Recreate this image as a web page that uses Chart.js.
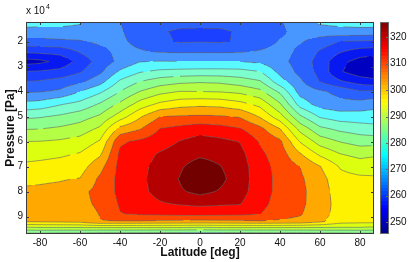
<!DOCTYPE html>
<html>
<head>
<meta charset="utf-8">
<script src="https://cdn.jsdelivr.net/npm/chart.js@4.4.1/dist/chart.umd.min.js"></script>
<style>
  html, body { margin: 0; padding: 0; background: #fff; }
</style>
</head>
<body>
<canvas id="chart" width="411" height="262"></canvas>
<script>
// grid: columns = latitude, rows = pressure
const latitudes = [-87, -80, -70, -60, -50, -40, -30, -20, -10, 0, 10, 20, 30, 40, 50, 60, 70, 80, 87];
const pressures = [12200, 16000, 20000, 24000, 28000, 32000, 36000, 40000, 45000, 50000, 55000,
  60000, 65000, 70000, 75000, 80000, 85000, 89000, 92000, 94500, 97000];
const temperature = [
  [272.5, 272, 271.5, 270.5, 267.5, 265, 263, 262, 261.5, 262, 261.5, 262, 263, 264.5, 268, 271, 271.5, 272, 272],
  [268, 268, 268.5, 268.5, 267.5, 265.5, 262.5, 260.5, 259.3, 259, 259.3, 260.5, 262, 264, 267, 267.5, 268.5, 268.5, 268.5],
  [263.5, 263.5, 264, 264.5, 266, 266, 263.5, 261, 259.5, 259.7, 259.5, 260.5, 262, 265.5, 265.5, 263, 260, 259.5, 259],
  [256, 256.5, 257, 260.5, 263.5, 266.5, 265.5, 264.5, 264.3, 264.4, 264.3, 264.5, 265.5, 267, 264, 259.5, 255.5, 253, 252.5],
  [248, 248.8, 251.5, 257, 262, 266.3, 269.8, 270.2, 270, 270, 270, 270, 269, 266.5, 263, 258, 251.5, 248, 247],
  [255, 255.5, 256.5, 259.5, 264, 270.7, 274.5, 276, 276.5, 276.8, 276.8, 276.5, 275, 268.5, 263.5, 258.5, 250.5, 247, 246.5],
  [260, 260.5, 262, 264, 268, 275.8, 280, 282.5, 283.8, 284.4, 284, 282.5, 280.5, 272, 266, 259.8, 255.7, 252.8, 251.5],
  [264.3, 264.7, 265.8, 270, 274.1, 280, 285.1, 288.4, 290.1, 290, 289.7, 288.8, 286.2, 279, 268, 265.8, 263.5, 260.5, 261],
  [271.4, 272, 274.5, 276.5, 280.5, 285.9, 292, 296, 298, 298.7, 298.3, 296.5, 293.5, 285.5, 272.8, 267.8, 266.5, 267, 268],
  [279, 279.5, 280.8, 282.8, 285.8, 292.4, 299.4, 304.9, 305.5, 305.7, 305.5, 304.5, 299.5, 292, 280.8, 274.4, 272.5, 272.3, 272.5],
  [284.8, 285, 286, 287.5, 291, 301.8, 304.8, 310.2, 311.6, 313, 312, 310.4, 306.5, 300.2, 288.5, 281.3, 278.9, 277.5, 276.6],
  [290, 290.1, 290.7, 291.9, 295.5, 309.2, 311, 312.8, 315.2, 317, 316.2, 314.8, 309.5, 306, 294.7, 287.8, 284.8, 283, 283],
  [293.2, 293.5, 294.2, 295.4, 299.2, 311, 313, 315.5, 317.3, 318.8, 318, 316.5, 311, 307.5, 300.5, 294, 290.1, 288.4, 289],
  [296, 296.4, 297, 297.8, 303.3, 311.5, 313.8, 316.5, 319.2, 322.8, 320.2, 317.3, 312, 308.3, 305, 300.2, 294.6, 292.7, 293.5],
  [299, 299.2, 299.6, 300.2, 306, 311.5, 314, 317, 320.3, 325.8, 321.3, 317.3, 312.5, 308.5, 305.8, 302, 296.5, 296, 295.5],
  [300.8, 301, 301.5, 303.8, 306.5, 311.3, 313.8, 316.5, 319.3, 321.5, 319.5, 316.8, 312.3, 308.5, 306.2, 302.5, 297.5, 297.2, 297],
  [301.5, 301.8, 302.3, 303.8, 305.8, 310.5, 312.8, 314.5, 315.3, 316, 315.6, 315.2, 311.5, 308, 306, 302.5, 298, 297.5, 297.5],
  [301.2, 301.5, 302, 302.8, 305.2, 309.8, 310.5, 311, 311.5, 311.5, 311.3, 311, 310, 307.5, 305.5, 302, 298, 297.5, 297.5],
  [300.4, 300.6, 301, 301.5, 304.8, 304.5, 304.5, 304, 303.8, 303.5, 303.8, 304, 304.5, 304, 303.5, 301, 297, 296.5, 296.5],
  [289, 289.5, 289.5, 289.5, 289.5, 289.5, 289.5, 289.5, 289.5, 289, 289.5, 289.5, 289.5, 289.5, 289.5, 289.5, 289.5, 289.5, 289],
  [278.5, 278.5, 278, 278, 277.5, 277.5, 277.5, 277, 277, 277, 277, 277, 277.5, 277.5, 277.5, 278, 278, 278.5, 278.5]
];
const levels = [250, 255, 260, 265, 270, 275, 280, 285, 290, 295, 300, 305, 310, 315, 320];
// fill colour of each band, coldest first (one more than levels)
const bandColors = ['#0000c0', '#0818f0', '#1c40ff', '#2a62ff', '#4896ff', '#5af8ff', '#7cffcc', '#8cff8c',
  '#b4ff46', '#dcff10', '#fff200', '#ffa800', '#ff4800', '#ff0800', '#b40000', '#720000'];
const latTicks = [-80, -60, -40, -20, 0, 20, 40, 60, 80];
const pressureTicks = [20000, 30000, 40000, 50000, 60000, 70000, 80000, 90000];
const cbarTicks = [250, 260, 270, 280, 290, 300, 310, 320];
const cbarMin = 245.5;
const cbarMax = 325.8;

const FONT = "'Liberation Sans', Arial, Helvetica, sans-serif";
Chart.defaults.font.family = FONT;

function jet(t) {
  t = Math.min(1, Math.max(0, t));
  const f = v => Math.round(255 * Math.min(1, Math.max(0, v)));
  return [f(1.5 - Math.abs(4 * t - 3)), f(1.5 - Math.abs(4 * t - 2)), f(1.5 - Math.abs(4 * t - 1))];
}

function findCell(arr, v) {
  for (let i = 0; i < arr.length - 2; i++) {
    if (v < arr[i + 1]) return i;
  }
  return arr.length - 2;
}

function tempAt(lat, p) {
  const i = findCell(latitudes, lat);
  const j = findCell(pressures, p);
  let fx = (lat - latitudes[i]) / (latitudes[i + 1] - latitudes[i]);
  let fy = (p - pressures[j]) / (pressures[j + 1] - pressures[j]);
  fx = Math.min(1, Math.max(0, fx));
  fy = Math.min(1, Math.max(0, fy));
  const a = temperature[j][i], b = temperature[j][i + 1];
  const c = temperature[j + 1][i], d = temperature[j + 1][i + 1];
  return a * (1 - fx) * (1 - fy) + b * fx * (1 - fy) + c * (1 - fx) * fy + d * fx * fy;
}

const bandRGB = bandColors.map(h => [1, 3, 5].map(k => parseInt(h.substr(k, 2), 16)));
function bandIndex(v) {
  let k = 0;
  while (k < levels.length && v >= levels[k]) k++;
  return k;
}

const contourPlugin = {
  id: 'contour',
  beforeDatasetsDraw(chart) {
    const {ctx, chartArea: a, scales: {x, y}} = chart;
    const w = Math.round(a.right - a.left);
    const h = Math.round(a.bottom - a.top);
    const img = ctx.createImageData(w, h);
    for (let py = 0; py < h; py++) {
      const p = y.getValueForPixel(a.top + py + 0.5);
      for (let px = 0; px < w; px++) {
        const lat = x.getValueForPixel(a.left + px + 0.5);
        const col = bandRGB[bandIndex(tempAt(lat, p))];
        const o = (py * w + px) * 4;
        img.data[o] = col[0];
        img.data[o + 1] = col[1];
        img.data[o + 2] = col[2];
        img.data[o + 3] = 255;
      }
    }
    const off = document.createElement('canvas');
    off.width = w;
    off.height = h;
    off.getContext('2d').putImageData(img, 0, 0);
    ctx.drawImage(off, Math.round(a.left), Math.round(a.top));

    // contour lines on a refined copy of the grid
    const sub = 6;
    const rl = [], rp = [];
    for (let i = 0; i < latitudes.length - 1; i++) {
      for (let s = 0; s < sub; s++) rl.push(latitudes[i] + (latitudes[i + 1] - latitudes[i]) * s / sub);
    }
    rl.push(latitudes[latitudes.length - 1]);
    for (let j = 0; j < pressures.length - 1; j++) {
      for (let s = 0; s < sub; s++) rp.push(pressures[j] + (pressures[j + 1] - pressures[j]) * s / sub);
    }
    rp.push(pressures[pressures.length - 1]);
    const rv = rp.map(p => rl.map(l => tempAt(l, p)));
    const px = rl.map(l => x.getPixelForValue(l));
    const py = rp.map(p => y.getPixelForValue(p));

    ctx.save();
    ctx.beginPath();
    ctx.rect(a.left, a.top, a.right - a.left, a.bottom - a.top);
    ctx.clip();
    ctx.strokeStyle = 'rgba(100,100,100,0.85)';
    ctx.lineWidth = 0.7;
    levels.forEach(L => {
      ctx.beginPath();
      for (let j = 0; j < rp.length - 1; j++) {
        for (let i = 0; i < rl.length - 1; i++) {
          const c = [
            [px[i], py[j], rv[j][i]],
            [px[i + 1], py[j], rv[j][i + 1]],
            [px[i + 1], py[j + 1], rv[j + 1][i + 1]],
            [px[i], py[j + 1], rv[j + 1][i]]
          ];
          const pts = [];
          for (let e = 0; e < 4; e++) {
            const p0 = c[e], p1 = c[(e + 1) % 4];
            if ((p0[2] - L) * (p1[2] - L) < 0) {
              const f = (L - p0[2]) / (p1[2] - p0[2]);
              pts.push([p0[0] + (p1[0] - p0[0]) * f, p0[1] + (p1[1] - p0[1]) * f]);
            }
          }
          for (let k = 0; k + 1 < pts.length; k += 2) {
            ctx.moveTo(pts[k][0], pts[k][1]);
            ctx.lineTo(pts[k + 1][0], pts[k + 1][1]);
          }
        }
      }
      ctx.stroke();
    });
    ctx.restore();
  },
  afterDraw(chart) {
    const {ctx, chartArea: a, scales: {x, y, cb}} = chart;
    ctx.save();
    // frame and inward ticks
    ctx.strokeStyle = '#3c3c3c';
    ctx.lineWidth = 1;
    ctx.strokeRect(a.left + 0.5, a.top + 0.5, a.right - a.left - 1, a.bottom - a.top - 1);
    ctx.beginPath();
    latTicks.forEach(v => {
      const xx = Math.round(x.getPixelForValue(v)) + 0.5;
      ctx.moveTo(xx, a.bottom);
      ctx.lineTo(xx, a.bottom - 3);
      ctx.moveTo(xx, a.top);
      ctx.lineTo(xx, a.top + 3);
    });
    pressureTicks.forEach(v => {
      const yy = Math.round(y.getPixelForValue(v)) + 0.5;
      ctx.moveTo(a.left, yy);
      ctx.lineTo(a.left + 3, yy);
      ctx.moveTo(a.right, yy);
      ctx.lineTo(a.right - 3, yy);
    });
    ctx.stroke();

    // colour bar
    const x0 = a.right + 6, x1 = a.right + 15;
    const steps = 64;
    for (let k = 0; k < steps; k++) {
      const v0 = cbarMin + (cbarMax - cbarMin) * k / steps;
      const v1 = cbarMin + (cbarMax - cbarMin) * (k + 1) / steps;
      const col = jet((k + 0.5) / steps);
      const ya = cb.getPixelForValue(v1), yb = cb.getPixelForValue(v0);
      ctx.fillStyle = `rgb(${col[0]},${col[1]},${col[2]})`;
      ctx.fillRect(x0, Math.floor(ya), x1 - x0, Math.ceil(yb) - Math.floor(ya));
    }
    ctx.strokeStyle = '#6a6a6a';
    ctx.strokeRect(x0 + 0.5, cb.getPixelForValue(cbarMax) + 0.5, x1 - x0 - 1, cb.getPixelForValue(cbarMin) - cb.getPixelForValue(cbarMax) - 1);
    ctx.beginPath();
    cbarTicks.forEach(v => {
      const yy = Math.round(cb.getPixelForValue(v)) + 0.5;
      ctx.moveTo(x1 - 1, yy);
      ctx.lineTo(x1 - 3, yy);
    });
    ctx.stroke();

    // axis multiplier
    ctx.fillStyle = '#111';
    ctx.textBaseline = 'alphabetic';
    ctx.textAlign = 'left';
    ctx.font = `10px ${FONT}`;
    ctx.fillText('x 10', a.left, 14);
    ctx.font = `7px ${FONT}`;
    ctx.fillText('4', a.left + 20, 9);
    ctx.restore();
  }
};

const tickFont = {size: 10, family: FONT};
const titleFont = {size: 12, weight: 'bold', family: FONT};
const noGrid = {display: false, drawTicks: false, tickLength: 0};

new Chart(document.getElementById('chart'), {
  type: 'scatter',
  data: {datasets: [{data: [], pointRadius: 0}]},
  options: {
    responsive: false,
    animation: false,
    layout: {padding: {top: 17, left: 0, right: 0, bottom: 0}},
    plugins: {legend: {display: false}, tooltip: {enabled: false}},
    scales: {
      x: {
        type: 'linear',
        min: -87,
        max: 87,
        afterBuildTicks: s => { s.ticks = latTicks.map(v => ({value: v})); },
        afterFit: s => { s.height = 28; },
        grid: noGrid,
        border: {display: false},
        ticks: {font: tickFont, color: '#111', padding: 3, maxRotation: 0, autoSkip: false},
        title: {display: true, text: 'Latitude [deg]', font: titleFont, color: '#111', padding: {top: 0, bottom: 2}}
      },
      y: {
        type: 'linear',
        reverse: true,
        min: 12200,
        max: 97000,
        afterBuildTicks: s => { s.ticks = pressureTicks.map(v => ({value: v})); },
        afterFit: s => { s.width = 26; },
        grid: noGrid,
        border: {display: false},
        ticks: {font: tickFont, color: '#111', padding: 3, autoSkip: false, callback: v => String(v / 10000)},
        title: {display: true, text: 'Pressure [Pa]', font: titleFont, color: '#111', padding: {top: 3, bottom: 0}}
      },
      cb: {
        type: 'linear',
        position: 'right',
        min: cbarMin,
        max: cbarMax,
        afterBuildTicks: s => { s.ticks = cbarTicks.map(v => ({value: v})); },
        afterFit: s => { s.width = 37; },
        grid: noGrid,
        border: {display: false},
        ticks: {font: tickFont, color: '#111', padding: 16, autoSkip: false}
      }
    }
  },
  plugins: [contourPlugin]
});
</script>
</body>
</html>
